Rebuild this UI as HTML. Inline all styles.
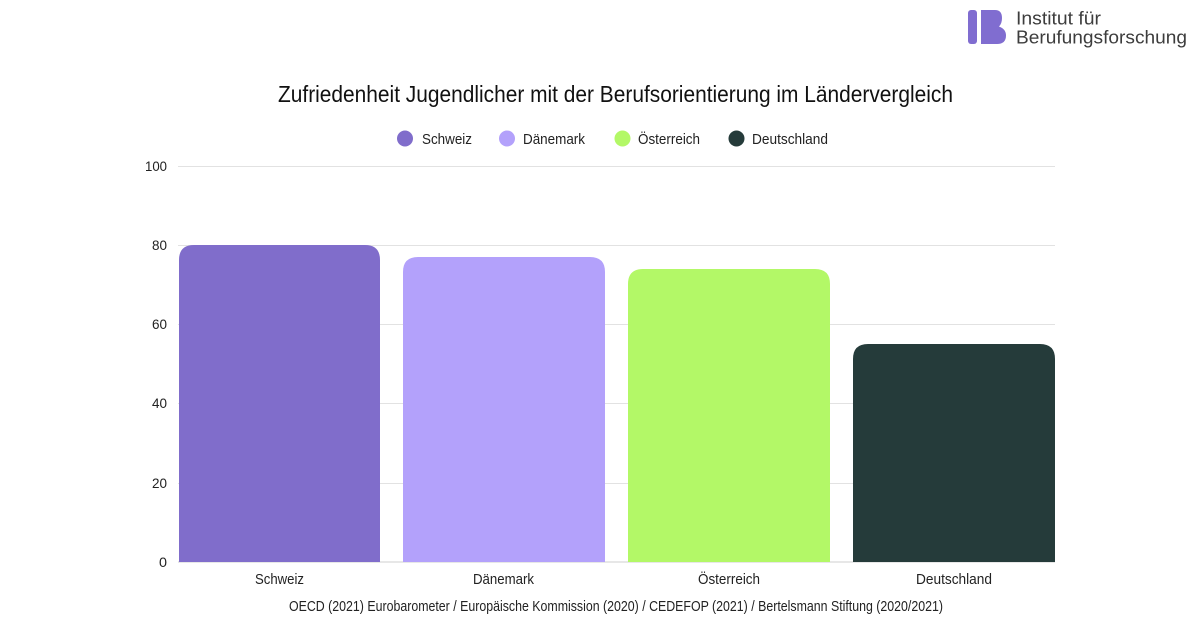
<!DOCTYPE html>
<html>
<head>
<meta charset="utf-8">
<style>
  html,body{margin:0;padding:0;background:#fff;}
  svg{display:block;}
  text{font-family:"Liberation Sans Narrow","Liberation Sans",sans-serif;}
</style>
</head>
<body>
<svg width="1200" height="644" viewBox="0 0 1200 644" xmlns="http://www.w3.org/2000/svg">
  <rect width="1200" height="644" fill="#ffffff"/>

  <!-- Logo -->
  <rect x="968" y="10" width="9" height="34" rx="3" fill="#806dd0"/>
  <path d="M981 10 H995 Q1002 10 1002 18 Q1002 23.5 999 26.5 Q1006 29 1006 35.5 Q1006 44 997 44 H981 Z" fill="#806dd0"/>
  <text x="1016" y="24.5" font-size="18" fill="#3d3d3d" textLength="85" lengthAdjust="spacingAndGlyphs" style="font-family:'Liberation Sans',sans-serif">Institut für</text>
  <text x="1016" y="43.5" font-size="18" fill="#3d3d3d" textLength="171" lengthAdjust="spacingAndGlyphs" style="font-family:'Liberation Sans',sans-serif">Berufungsforschung</text>

  <!-- Title -->
  <text x="278" y="102" font-size="23" fill="#111" textLength="675" lengthAdjust="spacingAndGlyphs">Zufriedenheit Jugendlicher mit der Berufsorientierung im Ländervergleich</text>

  <!-- Legend -->
  <circle cx="405" cy="138.5" r="8" fill="#806dcb"/>
  <text x="422" y="144" font-size="15" fill="#222" textLength="50" lengthAdjust="spacingAndGlyphs">Schweiz</text>
  <circle cx="507" cy="138.5" r="8" fill="#b3a1fb"/>
  <text x="523" y="144" font-size="15" fill="#222" textLength="62" lengthAdjust="spacingAndGlyphs">Dänemark</text>
  <circle cx="622.5" cy="138.5" r="8" fill="#b3f867"/>
  <text x="638" y="144" font-size="15" fill="#222" textLength="62" lengthAdjust="spacingAndGlyphs">Österreich</text>
  <circle cx="736.5" cy="138.5" r="8" fill="#253b3a"/>
  <text x="752" y="144" font-size="15" fill="#222" textLength="76" lengthAdjust="spacingAndGlyphs">Deutschland</text>

  <!-- Gridlines -->
  <g stroke="#e2e2e2" stroke-width="1">
    <line x1="178" y1="166.5" x2="1055" y2="166.5"/>
    <line x1="178" y1="245.5" x2="1055" y2="245.5"/>
    <line x1="178" y1="324.5" x2="1055" y2="324.5"/>
    <line x1="178" y1="403.5" x2="1055" y2="403.5"/>
    <line x1="178" y1="483.5" x2="1055" y2="483.5"/>
  </g>
  <line x1="178" y1="562" x2="1055" y2="562" stroke="#cfcfcf" stroke-width="1"/>

  <!-- Y labels -->
  <g font-size="14" fill="#222" text-anchor="end">
    <text x="167" y="171" textLength="22" lengthAdjust="spacingAndGlyphs">100</text>
    <text x="167" y="250" textLength="15" lengthAdjust="spacingAndGlyphs">80</text>
    <text x="167" y="329" textLength="15" lengthAdjust="spacingAndGlyphs">60</text>
    <text x="167" y="408" textLength="15" lengthAdjust="spacingAndGlyphs">40</text>
    <text x="167" y="488" textLength="15" lengthAdjust="spacingAndGlyphs">20</text>
    <text x="167" y="567" textLength="8" lengthAdjust="spacingAndGlyphs">0</text>
  </g>

  <!-- Bars -->
  <path d="M179 562 V260 Q179 245 194 245 H365 Q380 245 380 260 V562 Z" fill="#806dcb"/>
  <path d="M403 562 V272 Q403 257 418 257 H590 Q605 257 605 272 V562 Z" fill="#b3a1fb"/>
  <path d="M628 562 V284 Q628 269 643 269 H815 Q830 269 830 284 V562 Z" fill="#b3f867"/>
  <path d="M853 562 V359 Q853 344 868 344 H1040 Q1055 344 1055 359 V562 Z" fill="#253b3a"/>

  <!-- X labels -->
  <g font-size="15" fill="#222">
    <text x="255" y="584" textLength="49" lengthAdjust="spacingAndGlyphs">Schweiz</text>
    <text x="473" y="584" textLength="61" lengthAdjust="spacingAndGlyphs">Dänemark</text>
    <text x="698" y="584" textLength="62" lengthAdjust="spacingAndGlyphs">Österreich</text>
    <text x="916" y="584" textLength="76" lengthAdjust="spacingAndGlyphs">Deutschland</text>
  </g>

  <!-- Footer -->
  <text x="289" y="611" font-size="15" fill="#222" textLength="654" lengthAdjust="spacingAndGlyphs">OECD (2021) Eurobarometer / Europäische Kommission (2020) / CEDEFOP (2021) / Bertelsmann Stiftung (2020/2021)</text>
</svg>
</body>
</html>
